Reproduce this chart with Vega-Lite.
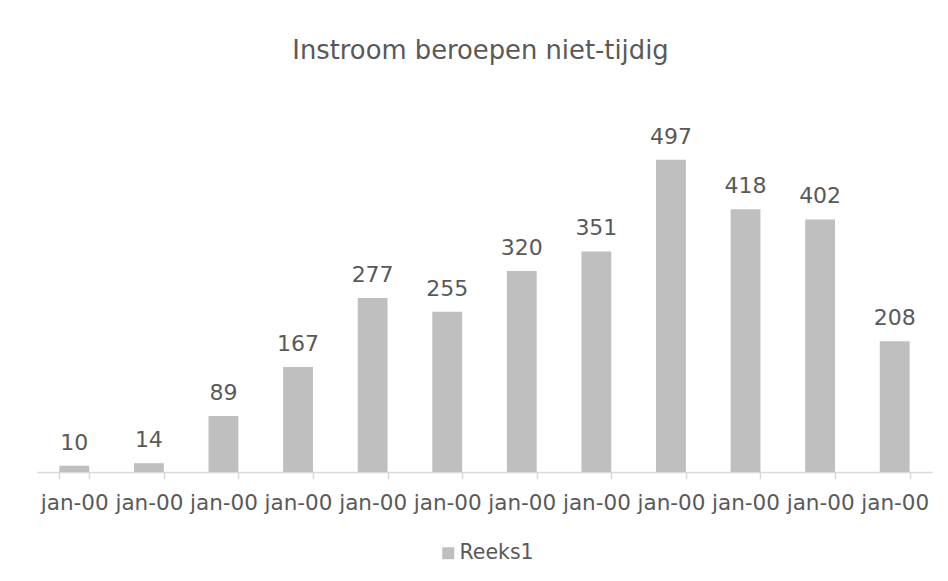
{
  "$schema": "https://vega.github.io/schema/vega-lite/v6.json",
  "width": 895,
  "height": 377,
  "autosize": {"type": "none"},
  "padding": {"left": 37, "top": 95, "right": 16, "bottom": 109},
  "background": "white",
  "config": {"view": {"stroke": null}},
  "title": {
    "text": "Instroom beroepen niet-tijdig",
    "font": "DejaVu Sans",
    "fontSize": 25.8,
    "fontWeight": "normal",
    "color": "#595959",
    "anchor": "middle",
    "baseline": "alphabetic",
    "offset": 10,
    "dx": -4
  },
  "data": {
    "values": [
      {"idx": 1, "month": "jan-00", "series": "Reeks1", "value": 10},
      {"idx": 2, "month": "jan-00", "series": "Reeks1", "value": 14},
      {"idx": 3, "month": "jan-00", "series": "Reeks1", "value": 89},
      {"idx": 4, "month": "jan-00", "series": "Reeks1", "value": 167},
      {"idx": 5, "month": "jan-00", "series": "Reeks1", "value": 277},
      {"idx": 6, "month": "jan-00", "series": "Reeks1", "value": 255},
      {"idx": 7, "month": "jan-00", "series": "Reeks1", "value": 320},
      {"idx": 8, "month": "jan-00", "series": "Reeks1", "value": 351},
      {"idx": 9, "month": "jan-00", "series": "Reeks1", "value": 497},
      {"idx": 10, "month": "jan-00", "series": "Reeks1", "value": 418},
      {"idx": 11, "month": "jan-00", "series": "Reeks1", "value": 402},
      {"idx": 12, "month": "jan-00", "series": "Reeks1", "value": 208}
    ]
  },
  "encoding": {
    "x": {
      "field": "idx",
      "type": "ordinal",
      "scale": {"paddingInner": 0.6, "paddingOuter": 0.3},
      "axis": {
        "title": null,
        "labelAngle": 0,
        "labelExpr": "datum.value >= 1 ? 'jan-00' : ''",
        "labelFont": "DejaVu Sans",
        "labelFontSize": 21.5,
        "labelColor": "#595959",
        "labelPadding": 13,
        "labelOverlap": false,
        "domainColor": "#D9D9D9",
        "domainWidth": 1.5,
        "tickColor": "#D9D9D9",
        "tickWidth": 1.5,
        "tickSize": 7,
        "tickBand": "extent"
      }
    }
  },
  "layer": [
    {
      "mark": {"type": "bar", "color": "#BFBFBF"},
      "encoding": {
        "y": {
          "field": "value",
          "type": "quantitative",
          "scale": {"domain": [0, 600]},
          "axis": null
        },
        "color": {
          "field": "series",
          "type": "nominal",
          "scale": {"range": ["#BFBFBF"]},
          "legend": {
            "title": null,
            "orient": "none",
            "legendX": 401,
            "legendY": 448,
            "padding": 0,
            "direction": "horizontal",
            "symbolType": "square",
            "symbolSize": 144,
            "symbolStrokeWidth": 0,
            "labelOffset": 1,
            "labelFont": "DejaVu Sans",
            "labelFontSize": 20.5,
            "labelColor": "#595959"
          }
        }
      }
    },
    {
      "mark": {
        "type": "text",
        "dy": -16,
        "baseline": "alphabetic",
        "font": "DejaVu Sans",
        "fontSize": 22,
        "color": "#595959"
      },
      "encoding": {
        "y": {"field": "value", "type": "quantitative"},
        "text": {"field": "value", "type": "quantitative"}
      }
    }
  ]
}
